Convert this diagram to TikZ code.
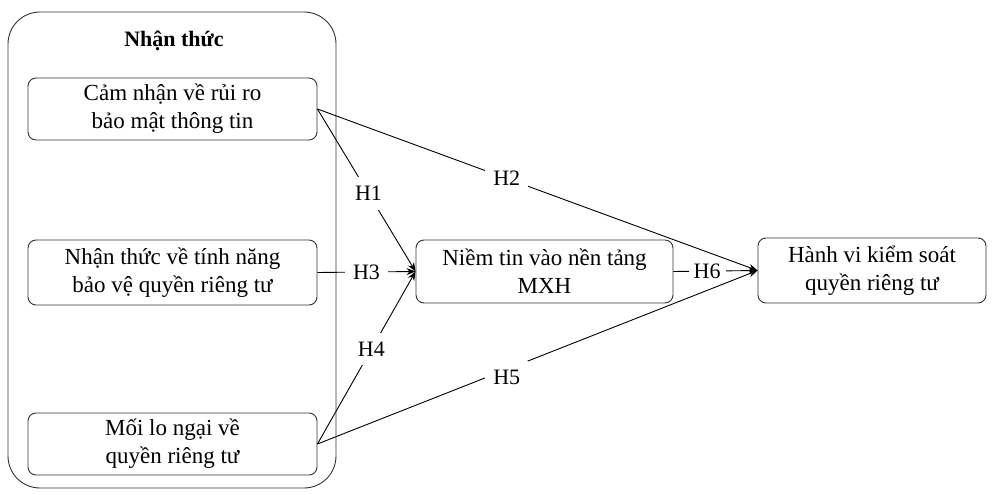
\documentclass[tikz,border=0pt]{standalone}
\usepackage{fontspec}
\setmainfont{Liberation Serif}
\usetikzlibrary{positioning,arrows.meta}

\tikzset{
  factor/.style={draw=black!80, line width=0.9pt, rounded corners=8pt, align=center,
    font=\fontsize{23}{28}\selectfont, inner sep=0pt},
  hyp/.style={fill=white, inner xsep=8pt, inner ysep=9pt, font=\fontsize{22}{26}\selectfont},
  path/.style={line width=0.9pt, -{Stealth[length=9pt,width=7pt]}},
}

\begin{document}
\begin{tikzpicture}[x=1pt,y=-1pt]
	\useasboundingbox (0,0) rectangle (994,495);
	% outer group
	\node[draw=black!80, line width=0.9pt, rounded corners=32pt, minimum width=328pt, minimum height=476pt] (nhanthuc) at (172,250) {};
	\node[font=\fontsize{22}{26}\selectfont\bfseries] (tieude) at (174,41) {Nhận thức};
	%
	\node[factor, minimum width=289pt, minimum height=62pt] (ruiro) at (172.5,109) {Cảm nhận về rủi ro\\bảo mật thông tin};
	\node[factor, minimum width=289pt, minimum height=65pt] (tinhnang) at (172.5,272.5) {Nhận thức về tính năng\\bảo vệ quyền riêng tư};
	\node[factor, minimum width=289pt, minimum height=62pt] (longai) at (172.5,444) {Mối lo ngại về\\quyền riêng tư};
	\node[factor, minimum width=257pt, minimum height=63pt] (niemtin) at (544.5,271.5) {Niềm tin vào nền tảng\\MXH};
	\node[factor, minimum width=228pt, minimum height=65pt] (hanhvi) at (872,270.5) {Hành vi kiểm soát\\quyền riêng tư};
	%
	\draw[path] (niemtin.east) -- node[hyp, pos=0.4, inner xsep=5pt, inner ysep=1pt] (h6) {H6} (hanhvi.west);
	\draw[path] (ruiro.east) -- node[hyp, pos=0.52] (h1) {H1} (niemtin.west);
	\draw[path] (ruiro.east) -- node[hyp, pos=0.43] (h2) {H2} (hanhvi.west);
	\draw[path] (tinhnang.east) -- node[hyp, pos=0.5] (h3) {H3} (niemtin.west);
	\draw[path] (longai.east) -- node[hyp, pos=0.55] (h4) {H4} (niemtin.west);
	\draw[path] (longai.east) -- node[hyp, pos=0.43, yshift=-8pt] (h5) {H5} (hanhvi.west);
\end{tikzpicture}
\end{document}
